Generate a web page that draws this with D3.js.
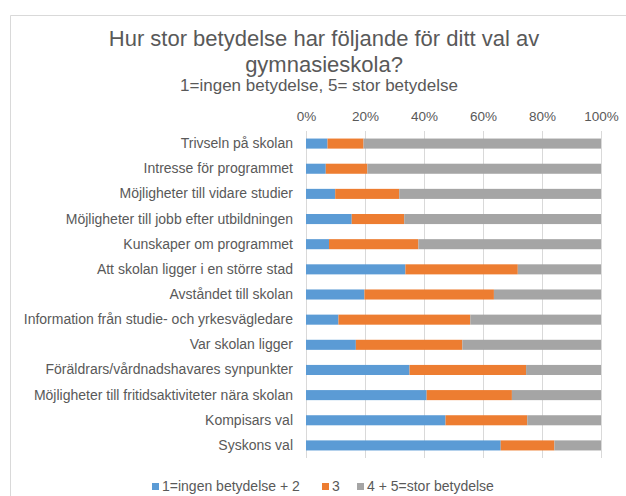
<!DOCTYPE html>
<html>
<head>
  <title>Gymnasieskola</title>
  <meta charset="utf-8">
  <style>
  body { margin: 0; background: #fff; }
  text { font-family: "Liberation Sans", Arial, sans-serif; fill: #595959; }
  .grid line { stroke: #d9d9d9; stroke-width: 1; }
  </style>
</head>
<body>
<svg width="626" height="496"></svg>
<script src="https://cdnjs.cloudflare.com/ajax/libs/d3/7.8.5/d3.min.js"></script>
<script>

var categories = [
  "Trivseln på skolan",
  "Intresse för programmet",
  "Möjligheter till vidare studier",
  "Möjligheter till jobb efter utbildningen",
  "Kunskaper om programmet",
  "Att skolan ligger i en större stad",
  "Avståndet till skolan",
  "Information från studie- och yrkesvägledare",
  "Var skolan ligger",
  "Föräldrars/vårdnadshavares synpunkter",
  "Möjligheter till fritidsaktiviteter nära skolan",
  "Kompisars val",
  "Syskons val"
];

// share per answer group
var low = [7.3, 6.7, 9.9, 15.5, 7.8, 33.7, 19.8, 11.0, 16.9, 35.1, 40.9, 47.3, 66.0];
var mid = [12.2, 14.1, 21.7, 17.8, 30.3, 38.1, 43.9, 44.7, 36.1, 39.5, 28.9, 27.7, 18.2];
var high = [80.5, 79.2, 68.4, 66.7, 61.9, 28.2, 36.3, 44.3, 47.0, 25.4, 30.2, 25.0, 15.8];

var seriesNames = ["1=ingen betydelse + 2", "3", "4 + 5=stor betydelse"];
var colors = ["#5b9bd5", "#ed7d31", "#a5a5a5"];
var tickValues = [0, 0.2, 0.4, 0.6, 0.8, 1];

var svg = d3.select("svg");

// chart frame
svg.append("path")
    .attr("d", "M10.5,496 V15.5 H626")
    .attr("fill", "none")
    .attr("stroke", "#d9d9d9");

// title
svg.append("text")
    .attr("x", 324).attr("y", 46)
    .attr("text-anchor", "middle")
    .style("font-size", "22px")
    .text("Hur stor betydelse har följande för ditt val av");
svg.append("text")
    .attr("x", 324).attr("y", 72)
    .attr("text-anchor", "middle")
    .style("font-size", "22px")
    .text("gymnasieskola?");
svg.append("text")
    .attr("x", 319).attr("y", 91)
    .attr("text-anchor", "middle")
    .style("font-size", "17px")
    .text("1=ingen betydelse, 5= stor betydelse");

var data = categories.map(function(c, i) {
  return { cat: c, s0: low[i] / 100, s1: mid[i] / 100, s2: high[i] / 100 };
});

var x = d3.scaleLinear().domain([0, 1]).range([306, 601]);
var y = d3.scaleBand().domain(categories).range([131, 458])
    .paddingInner(0.6).paddingOuter(0.3);

// gridlines
svg.append("g")
    .attr("class", "grid")
  .selectAll("line")
  .data(tickValues)
  .enter().append("line")
    .attr("x1", function(d) { return Math.round(x(d)) + 0.5; })
    .attr("x2", function(d) { return Math.round(x(d)) + 0.5; })
    .attr("y1", 131)
    .attr("y2", 458);

// top axis labels
var xAxis = svg.append("g")
    .attr("transform", "translate(0,121)")
    .call(d3.axisTop(x).tickValues(tickValues).tickFormat(d3.format(".0%")).tickSize(0).tickPadding(0));
xAxis.select(".domain").remove();
xAxis.selectAll("text")
    .attr("fill", "#595959")
    .style("font-size", "13.5px")
    .style("font-family", "'Liberation Sans', Arial, sans-serif");

// category labels
var yAxis = svg.append("g")
    .attr("transform", "translate(299,0)")
    .call(d3.axisLeft(y).tickSize(0).tickPadding(6));
yAxis.select(".domain").remove();
yAxis.selectAll("text")
    .attr("fill", "#595959")
    .style("font-size", "14px")
    .style("font-family", "'Liberation Sans', Arial, sans-serif");

var stack = d3.stack().keys(["s0", "s1", "s2"]);
var layers = stack(data);

svg.append("g")
  .selectAll("g")
  .data(layers)
  .enter().append("g")
    .attr("fill", function(d, i) { return colors[i]; })
  .selectAll("rect")
  .data(function(d) { return d; })
  .enter().append("rect")
    .attr("x", function(d) { return x(d[0]); })
    .attr("width", function(d) { return x(d[1]) - x(d[0]); })
    .attr("y", function(d) { return y(d.data.cat); })
    .attr("height", y.bandwidth());

// legend
var legendX = [152, 322, 357];
var legend = svg.append("g")
  .selectAll("g")
  .data(seriesNames)
  .enter().append("g")
    .attr("transform", function(d, i) { return "translate(" + legendX[i] + ",483)"; });
legend.append("rect")
    .attr("width", 7).attr("height", 7)
    .attr("fill", function(d, i) { return colors[i]; });
legend.append("text")
    .attr("x", 10).attr("y", 8)
    .style("font-size", "14px")
    .text(function(d) { return d; });

</script>
</body>
</html>
